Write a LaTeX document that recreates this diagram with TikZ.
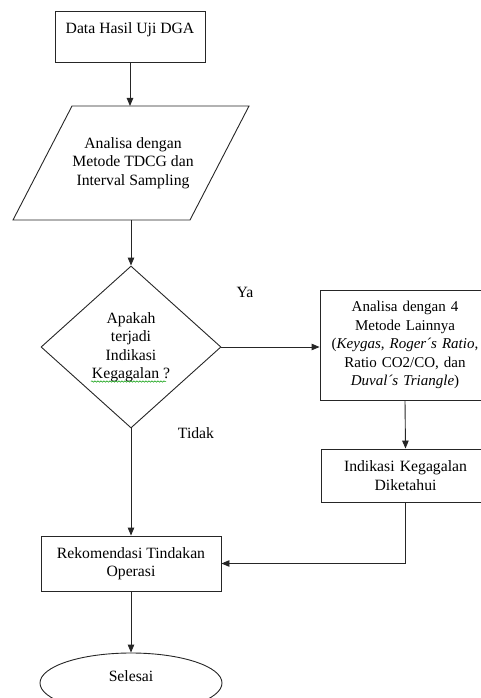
\documentclass[tikz,border=0pt]{standalone}
\usepackage{fontspec}
\setmainfont{Liberation Serif}
\usetikzlibrary{positioning,shapes.geometric,arrows.meta,decorations.pathmorphing}
\newcommand{\flowFont}{\fontsize{15.7}{18.5}\selectfont}
\newcommand{\sideFont}{\fontsize{15}{18.5}\selectfont}
\tikzstyle{chart} = [x = 1pt, y = -1pt, every node/.style={font=\flowFont}]
\tikzstyle{flowLine} = [draw=black!85, line width=.9pt]
\tikzstyle{flowArrow} = [flowLine, -{Triangle[length=8pt, width=6.5pt]}]
\tikzstyle{processBox} = [flowLine, rectangle, inner sep=0pt, align=center]
\tikzstyle{decisionShape} = [flowLine, diamond, inner sep=0pt, align=center, minimum width=180pt, minimum height=162pt]
\tikzstyle{endShape} = [flowLine, ellipse, inner sep=0pt, minimum width=182pt, minimum height=60pt, text height=11pt, text depth=15pt]
\tikzstyle{branchText} = [inner sep=0pt]
\tikzstyle{spellMark} = [draw=green!60!black, line width=.5pt, decorate, decoration={snake, amplitude=.7pt, segment length=3pt}]

\begin{document}
\begin{tikzpicture}[chart]
    \useasboundingbox (0,0) rectangle (480,698);
    % left column
    \node [processBox, minimum width=150pt, minimum height=51pt, text height=23pt, text depth=28pt] (data) at (130,36.5) {Data Hasil Uji DGA};
    \draw [flowLine] (72,106) -- (249,106) -- (190,220) -- (13,220) -- cycle;
    \coordinate (parTop) at (130,106);
    \coordinate (parBottom) at (131,220);
    \node [align=center, inner sep=0pt] (tdcg) at (133,163) {Analisa dengan\\Metode TDCG dan\\Interval Sampling};
    \node [decisionShape] (indikasi) at (131,347) {Apakah\\terjadi\\Indikasi\\Kegagalan ?};
    \draw [spellMark] (91,381.5) -- (166,381.5);
    \node [processBox, minimum width=180pt, minimum height=55pt] (rekomendasi) at (131,563.5) {Rekomendasi Tindakan\\Operasi};
    \node [endShape] (selesai) at (131,683) {Selesai};
    % right column
    \node [processBox, minimum width=170pt, minimum height=110pt, text width=166pt, font=\sideFont] (lainnya) at (405,345) {Analisa dengan 4\\Metode Lainnya\\(\textit{Keygas}, \textit{Roger´s Ratio},\\Ratio CO2/CO, dan\\\textit{Duval´s Triangle})};
    \node [processBox, minimum width=169pt, minimum height=53pt, text width=169pt] (diketahui) at (405.5,475.5) {Indikasi Kegagalan\\Diketahui};
    % branch labels
    \node [branchText] (ya) at (245,292) {Ya};
    \node [branchText] (tidak) at (196,433) {Tidak};
    % connectors
    \draw [flowArrow] (data.south) -- (parTop);
    \draw [flowArrow] (parBottom) -- (indikasi.north);
    \draw [flowArrow] (indikasi.east) -- (indikasi.east -| lainnya.west);
    \draw [flowArrow] (lainnya.south) -- (diketahui.north);
    \draw [flowArrow] (indikasi.south) -- (rekomendasi.north);
    \draw [flowArrow] (diketahui.south) |- (rekomendasi.east);
    \draw [flowArrow] (rekomendasi.south) -- (selesai.north);
\end{tikzpicture}
\end{document}
